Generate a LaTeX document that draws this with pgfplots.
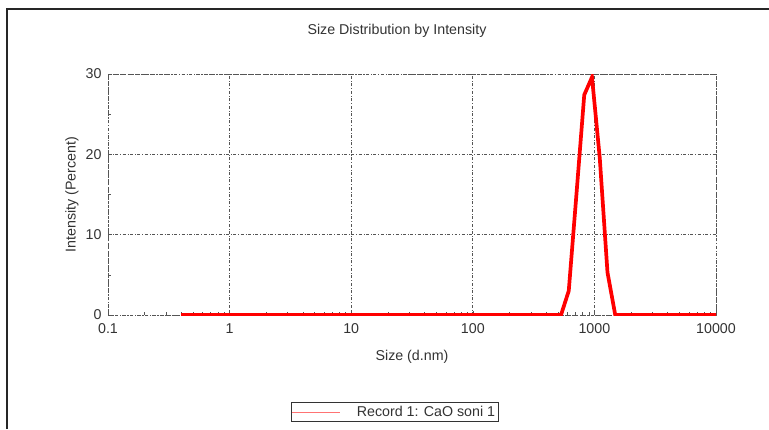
\documentclass[border=0pt]{standalone}
\usepackage{fontspec}
\setmainfont{Liberation Sans}
\usepackage{pgfplots}
\pgfplotsset{compat=1.18}
\definecolor{txt}{HTML}{333333}
\definecolor{gridc}{HTML}{555555}
\newcommand{\chartfont}{\fontsize{14.3}{16}\selectfont}
\begin{document}
\begin{tikzpicture}[x=1bp,y=1bp]
\path[use as bounding box] (0,0) rectangle (769,429);
% page frame (left and top edges)
\draw[line width=1.2bp, black!85] (7,0) -- (7,420) -- (769,420);
\node[font=\chartfont, text=txt] at (397,398) {Size Distribution by Intensity};
\begin{axis}[
  at={(108bp,114bp)}, anchor=south west,
  scale only axis, width=608bp, height=241bp,
  xmode=log, xmin=0.1, xmax=10000, ymin=0, ymax=30,
  xtick={0.1,1,10,100,1000,10000},
  xticklabels={0.1,1,10,100,1000,10000},
  minor xtick={0.2,0.3,0.4,0.5,0.6,0.7,0.8,0.9,2,3,4,5,6,7,8,9,20,30,40,50,60,70,80,90,200,300,400,500,600,700,800,900,2000,3000,4000,5000,6000,7000,8000,9000},
  ytick={0,10,20,30}, minor ytick={5,15,25},
  /pgf/number format/assume math mode=true,
  tick label style={font=\chartfont, text=txt},
  xticklabel style={yshift=-5bp},
  yticklabel style={xshift=-3bp},
  tick pos=left, tick align=inside,
  major tick length=4bp, minor tick length=3bp,
  every tick/.style={gridc, line width=0.6bp},
  axis line style={gridc, dashdotted, line width=0.7bp},
  grid=major,
  major grid style={gridc, dashdotted, line width=0.7bp},
  xlabel={Size (d.nm)},
  ylabel={Intensity (Percent)},
  every axis x label/.style={at={(axis description cs:0.5,-0.1743)}, anchor=center, font=\chartfont, text=txt},
  every axis y label/.style={at={(axis description cs:-0.0592,0.5)}, rotate=90, anchor=center, font=\chartfont, text=txt},
  legend style={at={(axis description cs:0.4712,-0.4025)}, anchor=center,
    draw=black!80, line width=0.8bp, font=\chartfont, text=txt,
    inner xsep=1bp, inner ysep=1.5bp},
  legend image code/.code={\draw[red!55, line width=0.9bp] (0bp,0bp) -- (48bp,0bp);},
  legend cell align=left,
]
\addplot[red, line width=3.7bp, line join=miter] coordinates {
(0.4,0) (0.4632,0) (0.5365,0) (0.6213,0) (0.7195,0) (0.8332,0) (0.9649,0)
(1.117,0) (1.294,0) (1.499,0) (1.736,0) (2.01,0) (2.328,0) (2.696,0)
(3.122,0) (3.615,0) (4.187,0) (4.849,0) (5.615,0) (6.503,0) (7.531,0)
(8.721,0) (10.1,0) (11.7,0) (13.54,0) (15.69,0) (18.17,0) (21.04,0)
(24.36,0) (28.21,0) (32.67,0) (37.84,0) (43.82,0) (50.75,0) (58.77,0)
(68.06,0) (78.82,0) (91.28,0) (105.7,0) (122.4,0) (141.8,0) (164.2,0)
(190.1,0) (220.2,0) (255.0,0) (295.3,0) (342.0,0) (396.1,0) (458.7,0)
(531.2,0) (615.1,3.0) (712.4,15.1) (825.0,27.4) (955.4,29.6) (1106,19.6)
(1281,5.3) (1484,0) (1718,0) (1990,0) (2305,0) (2669,0) (3091,0)
(3580,0) (4145,0) (4801,0) (5560,0) (6439,0) (7456,0) (8635,0) (10000,0)
};
\addlegendentry{\hspace{14bp}Record 1: CaO soni 1}
\end{axis}
\end{tikzpicture}
\end{document}
